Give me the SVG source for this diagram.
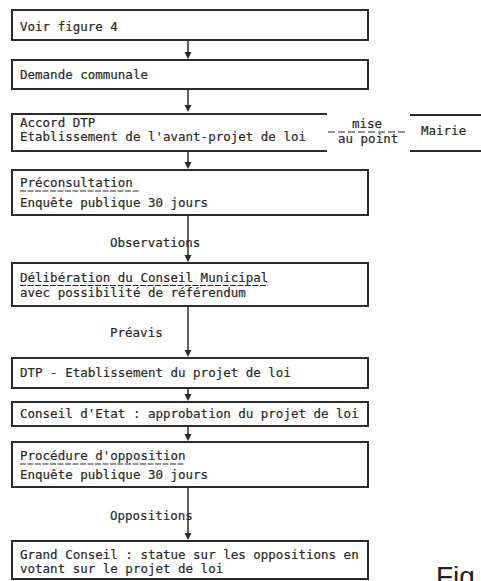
<svg xmlns="http://www.w3.org/2000/svg" width="481" height="581" viewBox="0 0 481 581">
<style>
.box{fill:none;stroke:#2b2b2b;stroke-width:2}
.t{font-family:"DejaVu Sans Mono","Liberation Mono",monospace;font-size:12.5px;fill:#2a2a2a;stroke:#2a2a2a;stroke-width:0.2}
.ul{stroke:#2b2b2b;stroke-width:1.2;stroke-dasharray:6 1.5}
.c{stroke:#2b2b2b;stroke-width:1.5;fill:none}
.ah{fill:#2b2b2b}
</style>
<rect width="481" height="581" fill="#fff"/>
<g id="connectors">
<line class="c" x1="188" y1="41" x2="188" y2="52"/><path class="ah" d="M184.5,52 L191.5,52 L188,59 Z"/>
<line class="c" x1="188" y1="90" x2="188" y2="105"/><path class="ah" d="M184.5,105 L191.5,105 L188,112 Z"/>
<line class="c" x1="188" y1="152" x2="188" y2="162"/><path class="ah" d="M184.5,162 L191.5,162 L188,169 Z"/>
<line class="c" x1="188" y1="216" x2="188" y2="255"/><path class="ah" d="M184.5,255 L191.5,255 L188,262 Z"/>
<line class="c" x1="188" y1="307" x2="188" y2="350"/><path class="ah" d="M184.5,350 L191.5,350 L188,357 Z"/>
<line class="c" x1="188" y1="389" x2="188" y2="394"/><path class="ah" d="M184.5,394 L191.5,394 L188,401 Z"/>
<line class="c" x1="188" y1="427" x2="188" y2="434"/><path class="ah" d="M184.5,434 L191.5,434 L188,441 Z"/>
<line class="c" x1="188" y1="488" x2="188" y2="533"/><path class="ah" d="M184.5,533 L191.5,533 L188,540 Z"/>
<line x1="328" y1="132" x2="408" y2="132" stroke="#2b2b2b" stroke-width="1.2" stroke-dasharray="7 3"/>
<text class="t" x="110" y="247">Observations</text>
<text class="t" x="110" y="337">Préavis</text>
<text class="t" x="110" y="520">Oppositions</text>
<text class="t" x="367" y="128" text-anchor="middle">mise</text>
<text class="t" x="338" y="143">au point</text>
</g>
<g id="n1"><rect class="box" x="12" y="10" width="356" height="30"/><text class="t" x="20" y="31">Voir figure 4</text></g>
<g id="n2"><rect class="box" x="12" y="60" width="356" height="29"/><text class="t" x="20" y="79">Demande communale</text></g>
<g id="n3"><path class="box" d="M327,114 H12 V151 H327"/><text class="t" x="20" y="127">Accord DTP</text><text class="t" x="20" y="141">Etablissement de l'avant-projet de loi</text></g>
<g id="n-mairie"><path class="box" d="M410,115 H481 M410,151 H481"/><text class="t" x="421" y="135">Mairie</text></g>
<g id="n4"><rect class="box" x="12" y="170" width="356" height="45"/><text class="t" x="20" y="187">Préconsultation</text><line class="ul" x1="20" y1="191" x2="140" y2="191"/><text class="t" x="20" y="207">Enquête publique 30 jours</text></g>
<g id="n5"><rect class="box" x="12" y="263" width="356" height="43"/><text class="t" x="20" y="282">Délibération du Conseil Municipal</text><line class="ul" x1="20" y1="285.5" x2="268" y2="285.5"/><text class="t" x="20" y="297">avec possibilité de référendum</text></g>
<g id="n6"><rect class="box" x="12" y="358" width="356" height="30"/><text class="t" x="20" y="377">DTP - Etablissement du projet de loi</text></g>
<g id="n7"><rect class="box" x="12" y="402" width="356" height="24"/><text class="t" x="20" y="418">Conseil d'Etat : approbation du projet de loi</text></g>
<g id="n8"><rect class="box" x="12" y="442" width="356" height="45"/><text class="t" x="20" y="460">Procédure d'opposition</text><line class="ul" x1="20" y1="464" x2="185" y2="464"/><text class="t" x="20" y="479">Enquête publique 30 jours</text></g>
<g id="n9"><rect class="box" x="12" y="541" width="356" height="38"/><text class="t" x="20" y="559">Grand Conseil : statue sur les oppositions en</text><text class="t" x="20" y="573">votant sur le projet de loi</text></g>
<text x="436" y="586" font-family="Liberation Sans, Arial, sans-serif" font-size="28" fill="#222">Fig</text>
</svg>
